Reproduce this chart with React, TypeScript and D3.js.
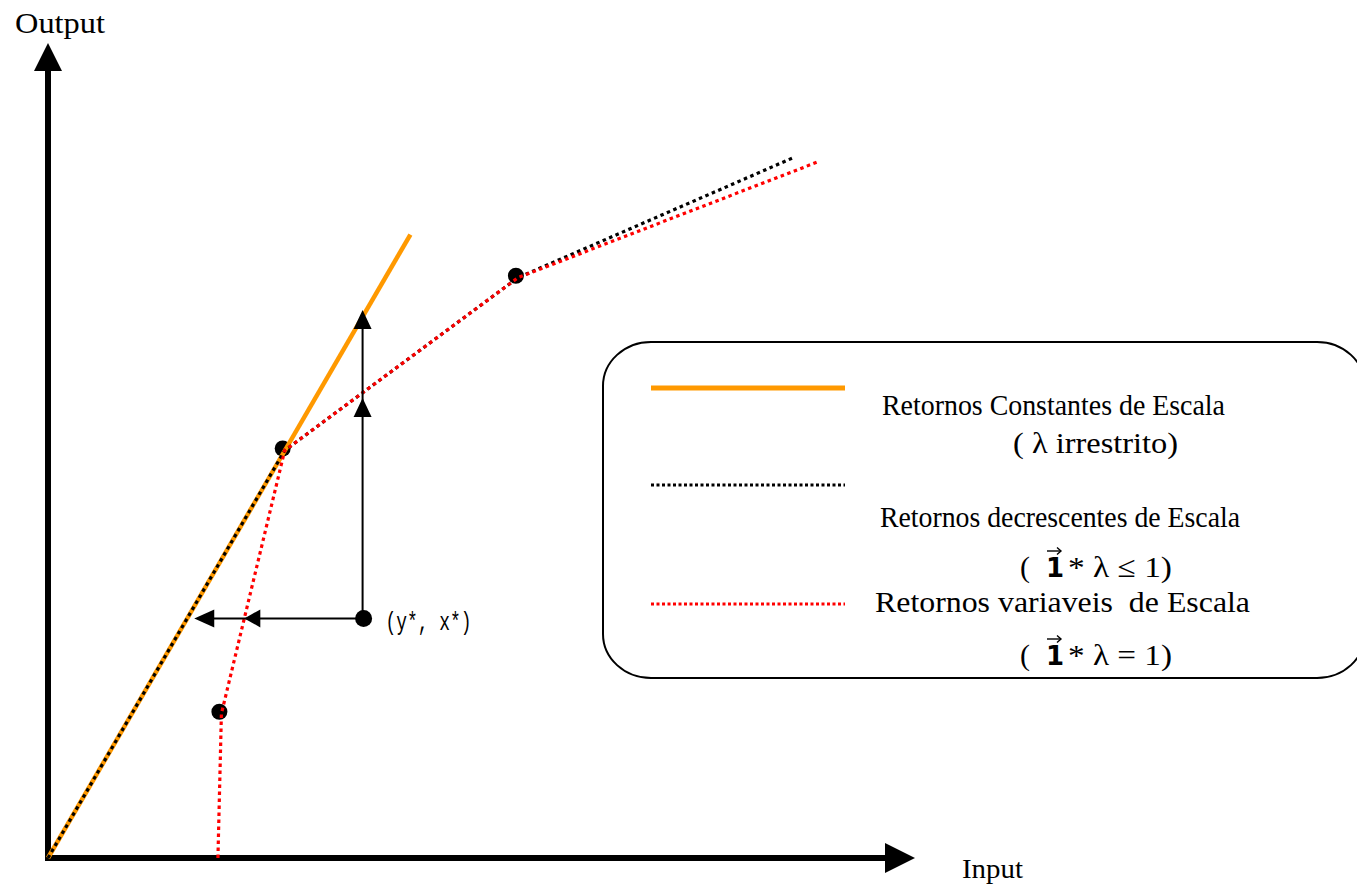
import React from "react";
import * as d3 from "d3";

// Frontier sketch: CRS, DRS and VRS envelopes in input/output space
const W = 1357;
const H = 888;

// Observed units (input, output)
const dmuInput = [2.0, 2.73, 5.42];
const dmuOutput = [1.77, 5.0, 7.12];

// Unit under evaluation (x*, y*)
const evalInput = 3.64;
const evalOutput = 2.94;
const evalLabel = "(y*, x*)";

// Frontier vertices
const crsFrontier: [number, number][] = [[0, 0], [4.18, 7.65]];
const drsFrontier: [number, number][] = [[0, 0], [2.73, 5.0], [5.42, 7.12], [8.59, 8.59]];
const vrsFrontier: [number, number][] = [[1.96, 0], [2.0, 1.77], [2.73, 5.0], [5.42, 7.12], [8.9, 8.55]];

const legendLabels = [
  "Retornos Constantes de Escala",
  "( λ irrestrito)",
  "Retornos decrescentes de Escala",
  "Retornos variaveis \u00a0de Escala",
];

const x = d3.scaleLinear().domain([0, 10]).range([48, 915]);
const y = d3.scaleLinear().domain([0, 10]).range([858, 43]);

const line = d3
  .line<[number, number]>()
  .x((d) => x(d[0]))
  .y((d) => y(d[1]));

// intersection of a horizontal/vertical ray with a polyline
function xAtY(poly: [number, number][], yv: number) {
  for (let i = 0; i < poly.length - 1; i++) {
    const [x0, y0] = poly[i];
    const [x1, y1] = poly[i + 1];
    if ((yv - y0) * (yv - y1) <= 0 && y1 !== y0) {
      return x0 + ((yv - y0) / (y1 - y0)) * (x1 - x0);
    }
  }
  return poly[0][0];
}
function yAtX(poly: [number, number][], xv: number) {
  for (let i = 0; i < poly.length - 1; i++) {
    const [x0, y0] = poly[i];
    const [x1, y1] = poly[i + 1];
    if ((xv - x0) * (xv - x1) <= 0 && x1 !== x0) {
      return y0 + ((xv - x0) / (x1 - x0)) * (y1 - y0);
    }
  }
  return poly[0][1];
}

const SERIF = "'Liberation Serif', 'DejaVu Serif', serif";
const MONO = "'Liberation Mono', 'DejaVu Sans Mono', monospace";

function ArrowHead({ tx, ty, dir, len = 19, half = 9 }: { tx: number; ty: number; dir: "up" | "left" | "right"; len?: number; half?: number }) {
  let pts = "";
  if (dir === "up") pts = `${tx},${ty} ${tx - half},${ty + len} ${tx + half},${ty + len}`;
  if (dir === "left") pts = `${tx},${ty} ${tx + len},${ty - half} ${tx + len},${ty + half}`;
  if (dir === "right") pts = `${tx},${ty} ${tx - len},${ty - half} ${tx - len},${ty + half}`;
  return <polygon points={pts} fill="#000" />;
}

// vector accent drawn above the bold unit "1"
function VecAccent({ cx, cy }: { cx: number; cy: number }) {
  return (
    <g stroke="#000" strokeWidth={1.4} fill="none">
      <line x1={cx - 7} y1={cy} x2={cx + 7} y2={cy} />
      <polyline points={`${cx + 3},${cy - 3.5} ${cx + 7},${cy} ${cx + 3},${cy + 3.5}`} />
    </g>
  );
}

export default function App() {
  const ex = x(evalInput);
  const ey = y(evalOutput);
  const crsLeft = x(xAtY(crsFrontier, evalOutput)) + 7;
  const vrsLeft = x(xAtY(vrsFrontier, evalOutput));
  const crsUp = y(yAtX(crsFrontier, evalInput)) - 5;
  const vrsUp = y(yAtX(vrsFrontier, evalInput)) + 6;
  const vx = ex - 1;

  const x0 = x(0);
  const y0 = y(0);

  const dotted = "3.5 3.5";

  return (
    <svg
      width={W}
      height={H}
      style={{ position: "absolute", left: 0, top: 0, background: "#fff" }}
      fontFamily={SERIF}
    >
      <rect width={W} height={H} fill="#fff" />

      {/* axes */}
      <line x1={x0} y1={y0 + 2} x2={x0} y2={y(10) + 26} stroke="#000" strokeWidth={6} />
      <ArrowHead tx={x0} ty={y(10)} dir="up" len={28} half={14} />
      <line x1={x0 - 3} y1={y0} x2={x(10) - 28} y2={y0} stroke="#000" strokeWidth={6} />
      <ArrowHead tx={x(10)} ty={y0} dir="right" len={30} half={15} />
      <text x={15} y={33} fontSize={30} textLength={90} lengthAdjust="spacingAndGlyphs" fill="#000">
        Output
      </text>
      <text x={962} y={878} fontSize={27} textLength={61} lengthAdjust="spacingAndGlyphs" fill="#000">
        Input
      </text>

      {/* observed units */}
      {dmuInput.map((d, i) => (
        <circle key={i} cx={x(d) - 2} cy={y(dmuOutput[i]) - 2} r={8} fill="#000" />
      ))}

      {/* frontiers */}
      <path d={line(crsFrontier) ?? ""} fill="none" stroke="#ff9900" strokeWidth={4.5} />
      <path d={line(drsFrontier) ?? ""} fill="none" stroke="#000" strokeWidth={3.2} strokeDasharray={dotted} />
      <path d={line(vrsFrontier) ?? ""} fill="none" stroke="#ff0000" strokeWidth={3.2} strokeDasharray={dotted} />

      {/* projections of the evaluated unit */}
      <line x1={vx} y1={ey} x2={vx} y2={crsUp + 10} stroke="#000" strokeWidth={2} />
      <ArrowHead tx={vx} ty={crsUp} dir="up" />
      <ArrowHead tx={vx} ty={vrsUp} dir="up" />
      <line x1={ex} y1={ey} x2={crsLeft + 10} y2={ey} stroke="#000" strokeWidth={2} />
      <ArrowHead tx={crsLeft} ty={ey} dir="left" len={20} half={9} />
      <ArrowHead tx={vrsLeft} ty={ey} dir="left" len={16} half={9} />
      <circle cx={ex} cy={ey} r={8.5} fill="#000" />
      <text x={ex + 22} y={ey + 12} fontFamily={MONO} fontSize={25} textLength={86} lengthAdjust="spacingAndGlyphs" fill="#000">
        {evalLabel}
      </text>

      {/* legend */}
      <rect x={603} y={342} width={762} height={336} rx={48} ry={44} fill="#fff" stroke="#000" strokeWidth={2} />
      <line x1={651} y1={388} x2={845} y2={388} stroke="#ff9900" strokeWidth={5} />
      <line x1={651} y1={485} x2={845} y2={485} stroke="#000" strokeWidth={3} strokeDasharray="3 2.5" />
      <line x1={651} y1={604} x2={845} y2={604} stroke="#ff0000" strokeWidth={3} strokeDasharray="3 2.5" />

      <g fontSize={30} fill="#000">
        <text x={882} y={415} textLength={343} lengthAdjust="spacingAndGlyphs">{legendLabels[0]}</text>
        <text x={1013} y={453} textLength={165} lengthAdjust="spacingAndGlyphs">{legendLabels[1]}</text>
        <text x={880} y={527} textLength={360} lengthAdjust="spacingAndGlyphs">{legendLabels[2]}</text>
        <text x={875} y={612} textLength={375} lengthAdjust="spacingAndGlyphs">{legendLabels[3]}</text>

        {[{ base: 577, rel: "≤" }, { base: 665, rel: "=" }].map((r) => (
          <g key={r.base}>
            <text x={1020} y={r.base}>(</text>
            <VecAccent cx={1054} cy={r.base - 26} />
            <text x={1046} y={r.base} fontWeight="bold" fontFamily="'DejaVu Sans', sans-serif" fontSize={26}>1</text>
            <text x={1068} y={r.base} textLength={104} lengthAdjust="spacingAndGlyphs">{`* λ ${r.rel} 1)`}</text>
          </g>
        ))}
      </g>
    </svg>
  );
}
